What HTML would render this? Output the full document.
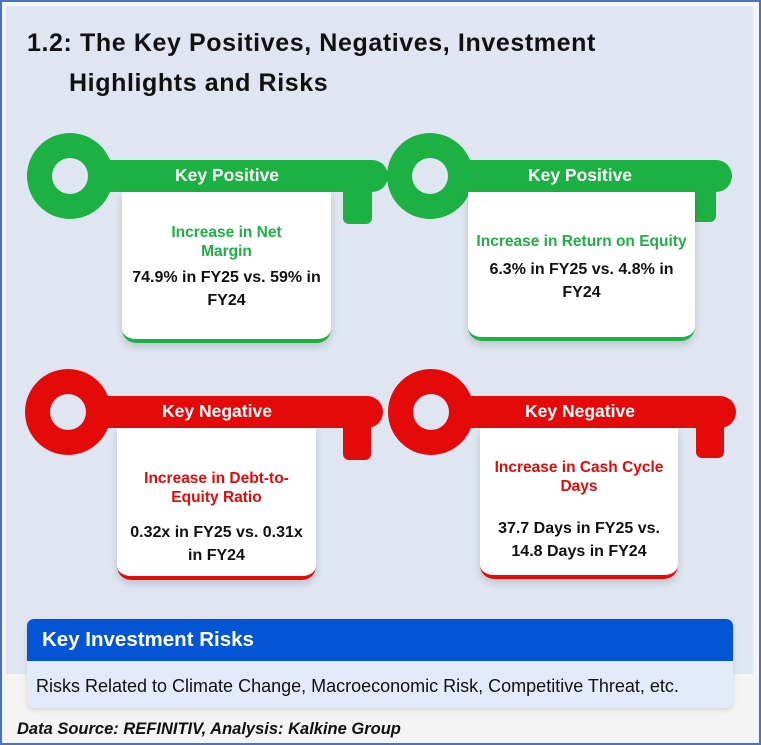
<!DOCTYPE html>
<html><head><meta charset="utf-8"><style>
body{margin:0;width:761px;height:745px;background:#f4f4f5;font-family:"Liberation Sans",sans-serif;position:relative;overflow:hidden}
.frame{position:absolute;left:0;top:0;width:757px;height:741px;border:2px solid #4a72c4}
.panel{position:absolute;left:6px;top:6px;width:747px;height:668px;background:#dfe6f1}
.t{position:absolute;font-weight:bold;color:#111;font-size:25px;letter-spacing:0.6px}
.card{position:absolute;background:#fff;border-bottom:4px solid;border-radius:0 0 14px 14px;box-shadow:0 4px 8px rgba(0,0,0,.15);text-align:center;box-sizing:border-box}
.card .h{font-size:15.5px;line-height:19px;font-weight:bold}
.card .v{font-size:16px;line-height:23px;font-weight:bold;color:#111;white-space:nowrap}
.lbl{position:absolute;color:#fff;font-weight:bold;font-size:17.5px;text-align:center}
</style></head><body>
<div class="frame"></div>
<div class="panel"></div>
<div class="t" style="left:27px;top:29px">1.2: The Key Positives, Negatives, Investment</div>
<div class="t" style="left:69px;top:69px">Highlights and Risks</div>
<svg width="761" height="745" style="position:absolute;left:0;top:0">
<g fill="#1db143">
<circle cx="70" cy="176" r="43"/><rect x="95" y="160" width="293" height="32" rx="16"/><rect x="343" y="180" width="29" height="44" rx="6"/></g>
<g fill="#1db143">
<circle cx="430" cy="176" r="43"/><rect x="455" y="160" width="277" height="32" rx="16"/><rect x="688" y="180" width="28" height="42" rx="6"/></g>
<g fill="#e40a0a">
<circle cx="68" cy="412" r="43"/><rect x="93" y="396" width="290" height="32" rx="16"/><rect x="343" y="416" width="28" height="44" rx="6"/></g>
<g fill="#e40a0a">
<circle cx="431" cy="412" r="43"/><rect x="456" y="396" width="280" height="32" rx="16"/><rect x="696" y="416" width="28" height="42" rx="6"/></g>
<g fill="#dfe6f1"><circle cx="70" cy="176" r="18"/><circle cx="430" cy="176" r="18"/><circle cx="68" cy="412" r="18"/><circle cx="431" cy="412" r="18"/></g>
</svg>
<div class="lbl" style="left:127px;top:165px;width:200px">Key Positive</div>
<div class="lbl" style="left:480px;top:165px;width:200px">Key Positive</div>
<div class="lbl" style="left:117px;top:401px;width:200px">Key Negative</div>
<div class="lbl" style="left:480px;top:401px;width:200px">Key Negative</div>

<div class="card" style="left:122px;top:192px;width:209px;height:151px;border-color:#1db143;padding-top:31px">
<div class="h" style="color:#1db143">Increase in Net<br>Margin</div>
<div class="v" style="margin-top:5px">74.9% in FY25 vs. 59% in<br>FY24</div></div>
<div class="card" style="left:468px;top:192px;width:227px;height:149px;border-color:#1db143;padding-top:40px">
<div class="h" style="color:#1db143">Increase in Return on Equity</div>
<div class="v" style="margin-top:7px">6.3% in FY25 vs. 4.8% in<br>FY24</div></div>
<div class="card" style="left:117px;top:428px;width:199px;height:152px;border-color:#e40a0a;padding-top:41px">
<div class="h" style="color:#e40a0a">Increase in Debt-to-<br>Equity Ratio</div>
<div class="v" style="margin-top:14px">0.32x in FY25 vs. 0.31x<br>in FY24</div></div>
<div class="card" style="left:480px;top:428px;width:198px;height:151px;border-color:#e40a0a;padding-top:30px">
<div class="h" style="color:#e40a0a">Increase in Cash Cycle<br>Days</div>
<div class="v" style="margin-top:21px">37.7 Days in FY25 vs.<br>14.8 Days in FY24</div></div>

<div style="position:absolute;left:27px;top:619px;width:706px;height:89px;border-radius:7px;overflow:hidden;background:#e3ebfb;box-shadow:0 2px 6px rgba(0,0,0,.12)">
<div style="height:42px;background:#0455d6;color:#fff;font-size:20.5px;font-weight:bold;line-height:42px;padding-left:15px">Key Investment Risks</div>
<div style="font-size:18px;color:#111;padding:15px 0 0 9px;white-space:nowrap">Risks Related to Climate Change, Macroeconomic Risk, Competitive Threat, etc.</div>
</div>
<div style="position:absolute;left:17px;top:720px;font-size:16.5px;font-weight:bold;font-style:italic;color:#111">Data Source: REFINITIV, Analysis: Kalkine Group</div>
</body></html>
